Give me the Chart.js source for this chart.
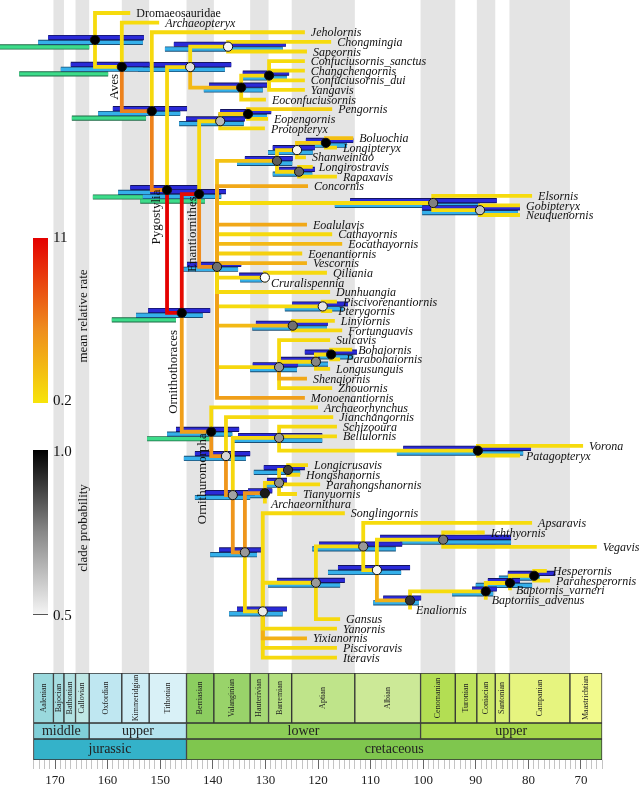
<!DOCTYPE html>
<html>
<head>
<meta charset="utf-8">
<script src="https://cdn.jsdelivr.net/npm/chart.js@4.4.1/dist/chart.umd.min.js"></script>
<style>
  html, body { margin: 0; padding: 0; background: #fff; }
  #wrap { position: relative; width: 640px; height: 788px; overflow: hidden; font-family: "Liberation Serif", "DejaVu Serif", serif; color: #111; }
  #tree { position: absolute; left: 0; top: 0; }
  #scale { position: absolute; left: 0; top: 673px; }
  .cbar { position: absolute; left: 33px; width: 15px; }
  .num { position: absolute; left: 53px; font-size: 15px; line-height: 15px; }
  .vlab { position: absolute; font-size: 13px; white-space: nowrap; transform: translate(-50%, -50%) rotate(-90deg); }
</style>
</head>
<body>
<div id="wrap">
  <canvas id="tree" width="640" height="673"></canvas>
  <canvas id="scale" width="640" height="115"></canvas>

  <div class="cbar" style="top:238px;height:165px;background:linear-gradient(#e40000, #ee8c1e 55%, #f7e40a);"></div>
  <div class="num" style="top:230px;">11</div>
  <div class="num" style="top:393px;">0.2</div>
  <div class="vlab" style="left:83px;top:316px;">mean relative rate</div>

  <div class="cbar" style="top:450px;height:164px;background:linear-gradient(#000, #888 50%, #f4f4f4);border-bottom:1.5px solid #555;"></div>
  <div class="num" style="top:444px;">1.0</div>
  <div class="num" style="top:608px;">0.5</div>
  <div class="vlab" style="left:83px;top:528px;">clade probability</div>
</div>
<script>
// ---- geological time scale (Ma) ----
const stageName = ['Aalenian', 'Bajocian', 'Bathonian', 'Callovian', 'Oxfordian', 'Kimmeridgian', 'Tithonian',
  'Berriasian', 'Valanginian', 'Hauterivian', 'Barremian', 'Aptian', 'Albian',
  'Cenomanian', 'Turonian', 'Coniacian', 'Santonian', 'Campanian', 'Maastrichtian'];
const stageStart = [174.1, 170.3, 168.3, 166.1, 163.5, 157.3, 152.1, 145.0, 139.8, 132.9, 129.4, 125.0, 113.0, 100.5, 93.9, 89.8, 86.3, 83.6, 72.1];
const stageEnd = [170.3, 168.3, 166.1, 163.5, 157.3, 152.1, 145.0, 139.8, 132.9, 129.4, 125.0, 113.0, 100.5, 93.9, 89.8, 86.3, 83.6, 72.1, 66.0];
const stageColor = ['#9ad9dd', '#a6dde0', '#b3e2e3', '#bfe7e5', '#bfe7f1', '#ccecf4', '#d9f1f7',
  '#8ccd60', '#99d36a', '#a6d975', '#b3df7f', '#bfe48a', '#cce997',
  '#b3de53', '#bfe35d', '#cce968', '#d9ef74', '#e6f47f', '#f2fa8c'];
const epochName = ['middle', 'upper', 'lower', 'upper'];
const epochStart = [174.1, 163.5, 145.0, 100.5];
const epochEnd = [163.5, 145.0, 100.5, 66.0];
const epochColor = ['#80cfd8', '#b3e3ee', '#8ccd57', '#a6d84a'];
const periodName = ['jurassic', 'cretaceous'];
const periodStart = [174.1, 145.0];
const periodEnd = [145.0, 66.0];
const periodColor = ['#34b2c9', '#7fc64e'];

// ---- tips ----
const taxa = ['Dromaeosauridae', 'Archaeopteryx', 'Jeholornis', 'Chongmingia', 'Sapeornis',
  'Confuciusornis_sanctus', 'Changchengornis', 'Confuciusornis_dui', 'Yangavis', 'Eoconfuciusornis',
  'Pengornis', 'Eopengornis', 'Protopteryx', 'Boluochia', 'Longipteryx', 'Shanweiniao', 'Longirostravis',
  'Rapaxavis', 'Concornis', 'Elsornis', 'Gobipteryx', 'Neuquenornis', 'Eoalulavis', 'Cathayornis',
  'Eocathayornis', 'Eoenantiornis', 'Vescornis', 'Qiliania', 'Cruralispennia', 'Dunhuangia',
  'Piscivorenantiornis', 'Pterygornis', 'Linyiornis', 'Fortunguavis', 'Sulcavis', 'Bohaiornis',
  'Parabohaiornis', 'Longusunguis', 'Shenqiornis', 'Zhouornis', 'Monoenantiornis', 'Archaeorhynchus',
  'Jianchangornis', 'Schizooura', 'Bellulornis', 'Vorona', 'Patagopteryx', 'Longicrusavis',
  'Hongshanornis', 'Parahongshanornis', 'Tianyuornis', 'Archaeornithura', 'Songlingornis', 'Apsaravis',
  'Ichthyornis', 'Vegavis', 'Hesperornis', 'Parahesperornis', 'Baptornis_varneri', 'Baptornis_advenus',
  'Enaliornis', 'Gansus', 'Yanornis', 'Yixianornis', 'Piscivoravis', 'Iteravis'];
const tipAge = [155.7, 150.2, 122.5, 117.5, 122.1, 122.5, 122.5, 122.5, 122.5, 129.9,
  117.3, 129.5, 130.1, 113.3, 116.4, 122.3, 121.0, 116.4, 121.9, 79.3,
  81.6, 81.6, 122.1, 117.3, 115.4, 123.0, 122.1, 118.3, 130.1, 117.7,
  116.4, 117.3, 116.8, 115.4, 117.7, 113.5, 115.8, 117.7, 122.1, 117.3,
  122.5, 120.0, 117.1, 116.4, 116.4, 69.6, 81.6, 121.9, 123.4, 119.6,
  124.0, 130.1, 114.9, 79.3, 88.3, 67.0, 76.5, 75.9, 83.5, 88.1,
  102.5, 115.8, 116.4, 122.1, 116.4, 116.4];
const tipRow = [0, 1, 2, 3, 4, 5, 6, 7, 8, 9, 10, 11, 12, 13, 14, 15, 16, 17, 18, 19,
  20, 21, 22, 23, 24, 25, 26, 27, 28, 29, 30, 31, 32, 33, 34, 35, 36, 37, 38, 39,
  40, 41, 42, 43, 44, 45, 46, 47, 48, 49, 50, 51, 52, 53, 54, 55.5,
  58, 59, 60, 61, 62, 63, 64, 65, 66, 67];
const tipParent = [0, 1, 2, 5, 5, 7, 7, 7, 7, 6,
  11, 11, 10, 15, 15, 14, 16, 16, 12, 17,
  18, 18, 12, 12, 12, 12, 12, 19, 19, 12,
  20, 20, 21, 21, 22, 24, 24, 23, 22, 22,
  12, 25, 26, 28, 28, 29, 29, 33, 33, 32,
  32, 31, 34, 36, 38, 38, 42, 42, 41, 40,
  39, 35, 34, 34, 34, 34];
const tipRate = [0.6, 0.6, 0.7, 0.6, 0.7, 0.6, 0.6, 0.6, 0.6, 0.8,
  1.2, 0.7, 0.7, 2.2, 0.7, 0.7, 0.7, 0.7, 3.5, 0.6,
  0.6, 0.6, 3.5, 0.7, 2.5, 1.2, 3.0, 0.7, 0.7, 0.7,
  0.6, 0.7, 0.8, 0.8, 0.7, 0.7, 0.7, 0.7, 3.5, 0.7,
  4.0, 0.7, 0.7, 0.7, 0.7, 0.6, 0.6, 0.7, 0.7, 0.7,
  0.7, 0.7, 0.7, 0.6, 0.6, 0.6, 0.6, 0.6, 0.6, 0.6,
  0.7, 0.7, 0.7, 3.0, 0.7, 0.7];

// ---- internal nodes ----
const nodeParent = [-1, 0, 1, 2, 3, 4, 4, 6, 3, 8, 9, 10, 9, 12, 13, 14, 13, 12, 17, 12, 12, 12, 12, 22, 23,
  8, 25, 26, 27, 28, 27, 30, 31, 32, 30, 34, 35, 36, 37, 37, 39, 40, 41];
const nodeAge = [162.4, 157.3, 151.6, 148.7, 144.3, 137.1, 134.6, 129.3, 145.9, 142.6, 138.6, 133.3, 139.2,
  127.8, 124.0, 118.5, 123.6, 98.1, 89.2, 130.1, 119.1, 124.8, 127.4, 120.4, 117.5,
  140.3, 137.5, 136.2, 127.4, 89.6, 133.9, 130.1, 127.4, 125.7, 130.5, 120.4, 111.4, 108.8, 96.2, 102.5, 88.1, 83.5, 78.9];
const nodeRate = [0, 0.6, 5.5, 5.5, 0.8, 0.6, 2.5, 0.8, 11, 10.5, 0.8, 1.5, 5.0,
  2.0, 0.8, 1.5, 0.8, 0.6, 0.6, 0.8, 0.6, 2.5, 0.8, 0.8, 0.6,
  4.0, 4.5, 4.5, 0.8, 0.6, 4.5, 4.5, 0.8, 0.8, 0.8, 0.6, 0.6, 0.6, 0.6, 3.0, 0.6, 0.6, 0.6];
const nodeProb = [1, 1, 1, 1, 0.56, 0.52, 1, 1, 1, 1, 0.64, 1, 0.78,
  0.82, 0.52, 1, 0.8, 0.75, 0.62, 0.5, 0.55, 0.78, 0.7, 0.74, 1,
  1, 0.58, 0.68, 0.7, 1, 0.7, 0.95, 0.72, 0.88, 0.54, 0.7, 0.7, 0.52, 0.76, 0.9, 1, 1, 1];
const hpdDark = [[171.3, 153.1], [167.0, 152.0], [159.0, 144.9], [155.7, 142.4], [151.4, 136.5], [147.4, 126.1],
  [140.7, 129.7], [134.3, 125.5], [152.3, 140.5], [151.9, 137.5], [145.1, 133.9], [138.6, 128.9], [144.9, 134.6],
  [133.9, 124.8], [128.6, 120.6], [122.3, 113.3], [127.4, 120.6], [113.9, 86.0], [100.2, 81.6], [135.0, 129.9],
  [124.9, 114.3], [131.8, 118.1], [132.4, 123.8], [127.6, 119.6], [122.5, 112.6], [147.0, 135.0], [143.4, 132.9],
  [141.5, 132.0], [135.2, 119.2], [103.8, 79.5], [138.8, 130.8], [133.3, 128.7], [129.7, 125.9], [130.3, 122.5],
  [135.4, 125.9], [127.8, 114.9], [119.8, 104.0], [116.2, 102.5], [108.2, 83.3], [107.6, 100.4], [90.7, 86.0],
  [87.7, 81.6], [83.9, 74.9]];
const hpdLight = [[173.2, 153.3], [168.9, 153.3], [161.8, 146.2], [158.0, 143.2], [154.2, 137.7], [149.1, 126.7],
  [141.7, 130.5], [134.6, 125.9], [154.6, 141.9], [153.3, 138.4], [146.4, 134.1], [139.0, 129.7], [146.2, 135.2],
  [135.4, 124.9], [129.5, 121.0], [124.2, 114.5], [128.6, 121.1], [116.8, 89.2], [100.2, 82.0], [134.8, 130.6],
  [126.3, 115.2], [132.5, 118.3], [132.9, 124.0], [125.9, 118.1], [120.6, 113.3], [148.7, 136.3], [145.5, 133.7],
  [143.4, 132.9], [136.2, 119.2], [105.0, 81.0], [140.5, 131.6], [133.9, 129.5], [130.1, 126.7], [132.2, 123.4],
  [136.9, 126.7], [129.5, 115.8], [121.1, 105.2], [118.1, 104.2], [104.4, 83.3], [109.5, 100.8], [94.5, 86.7],
  [90.0, 79.3], [85.6, 77.8]];
const greenNodes = [0, 1, 2, 3, 8, 9, 25];
const hpdGreen = [[180.5, 163.5], [176.8, 159.9], [166.8, 152.7], [162.8, 144.7], [159.2, 147.0], [153.8, 141.5], [152.5, 140.0]];

const cladeName = ['Aves', 'Pygostylia', 'Enantiornithes', 'Ornithothoraces', 'Ornithuromorpha'];
const cladeNode = [1, 3, 9, 8, 25];

// ---- layout helpers ----
const xMin = 58.78, xMax = 180.46;      // axis range that fills the 640px width
const rowPx = 9.62;
const yMin = -13 / rowPx, yMax = yMin + 673 / rowPx;
const SERIF = '"Liberation Serif", "DejaVu Serif", serif';

const nodeRow = nodeAge.map(() => null);
function rowOf(n) {
  if (nodeRow[n] !== null) return nodeRow[n];
  const ys = [];
  tipParent.forEach((p, i) => { if (p === n) ys.push(tipRow[i]); });
  nodeParent.forEach((p, j) => { if (p === n) ys.push(rowOf(j)); });
  nodeRow[n] = ys.reduce((a, b) => a + b, 0) / ys.length;
  return nodeRow[n];
}
nodeAge.forEach((_, n) => rowOf(n));

function rateColor(r) {
  const f = Math.max(0, Math.min(1, (r - 0.2) / 10.8));
  const stops = [[0, [247, 226, 12]], [0.45, [238, 140, 30]], [1, [228, 0, 0]]];
  let k = 0;
  while (k < stops.length - 2 && f > stops[k + 1][0]) k++;
  const [f0, c0] = stops[k], [f1, c1] = stops[k + 1];
  const t = (f - f0) / (f1 - f0);
  const c = c0.map((v, i) => Math.round(v + (c1[i] - v) * t));
  return `rgb(${c[0]},${c[1]},${c[2]})`;
}
function probColor(p) {
  const g = Math.round(255 * Math.max(0, Math.min(1, 1 - (p - 0.5) / 0.5)));
  return `rgb(${g},${g},${g})`;
}

const datasets = [];

// HPD bars, drawn underneath the branches
function barSets(nodes, ranges, offPx, fill, edge, order) {
  const pts = [];
  nodes.forEach((n, k) => {
    const r = nodeRow[n] + offPx / rowPx;
    pts.push({ x: ranges[k][0], y: r }, { x: ranges[k][1], y: r }, { x: NaN, y: NaN });
  });
  const base = { data: pts, showLine: true, pointRadius: 0, spanGaps: false, borderCapStyle: 'butt' };
  return [
    Object.assign({}, base, { borderColor: edge, borderWidth: 5.2, order: order + 1 }),
    Object.assign({}, base, { borderColor: fill, borderWidth: 3.4, order: order })
  ];
}
const allNodes = nodeAge.map((_, i) => i);
datasets.push(...barSets(greenNodes, hpdGreen, 7, '#3ddc8a', '#1d6b45', 8));
datasets.push(...barSets(allNodes, hpdLight, 2.4, '#35b0ea', '#1b4f75', 6));
datasets.push(...barSets(allNodes, hpdDark, -2.4, '#2a2ad8', '#141460', 4));

// branches (elbow: down/up from parent, then across to child)
function edge(pAge, pRow, cAge, cRow, rate) {
  datasets.push({
    data: [{ x: pAge, y: pRow }, { x: pAge, y: cRow }, { x: cAge, y: cRow }],
    showLine: true, pointRadius: 0, borderColor: rateColor(rate), borderWidth: 3.8,
    borderJoinStyle: 'miter', borderCapStyle: 'butt', order: 1
  });
}
taxa.forEach((_, i) => {
  const p = tipParent[i];
  edge(nodeAge[p], nodeRow[p], tipAge[i], tipRow[i], tipRate[i]);
});
nodeParent.forEach((p, j) => {
  if (p < 0) return;
  edge(nodeAge[p], nodeRow[p], nodeAge[j], nodeRow[j], nodeRate[j]);
});

// node circles
datasets.push({
  data: nodeAge.map((a, n) => ({ x: a, y: nodeRow[n] })),
  showLine: false, pointRadius: 4.6, pointBorderWidth: 1, pointBorderColor: '#111',
  pointBackgroundColor: nodeProb.map(probColor), order: 0
});

const stripes = {
  id: 'stripes',
  beforeDatasetsDraw(chart) {
    const { ctx, scales: { x } } = chart;
    ctx.save();
    ctx.fillStyle = '#e4e4e4';
    stageName.forEach((_, i) => {
      if (i % 2 === 1) {
        const a = x.getPixelForValue(stageStart[i]), b = x.getPixelForValue(stageEnd[i]);
        ctx.fillRect(a, 0, b - a, chart.height);
      }
    });
    ctx.restore();
  }
};

const treeText = {
  id: 'treeText',
  afterDatasetsDraw(chart) {
    const { ctx, scales: { x, y } } = chart;
    ctx.save();
    ctx.fillStyle = '#111';
    ctx.textBaseline = 'middle';
    taxa.forEach((name, i) => {
      ctx.font = (i === 0 ? '' : 'italic ') + '12px ' + SERIF;
      ctx.fillText(name, x.getPixelForValue(tipAge[i]) + 6, y.getPixelForValue(tipRow[i]) + 1);
    });
    const dx = [-7, -10, -7, -8, -9], dy = [20, 27, 40, 59, 47];
    ctx.font = '13px ' + SERIF;
    ctx.textAlign = 'center';
    cladeName.forEach((name, k) => {
      const n = cladeNode[k];
      ctx.save();
      ctx.translate(x.getPixelForValue(nodeAge[n]) + dx[k], y.getPixelForValue(nodeRow[n]) + dy[k]);
      ctx.rotate(-Math.PI / 2);
      ctx.fillText(name, 0, 0);
      ctx.restore();
    });
    ctx.restore();
  }
};

new Chart(document.getElementById('tree'), {
  type: 'scatter',
  data: { datasets },
  options: {
    responsive: false, animation: false, events: [],
    layout: { padding: 0, autoPadding: false },
    elements: { line: { tension: 0 } },
    plugins: { legend: { display: false }, tooltip: { enabled: false } },
    scales: {
      x: { type: 'linear', min: xMin, max: xMax, reverse: true, display: false },
      y: { type: 'linear', min: yMin, max: yMax, reverse: true, display: false }
    }
  },
  plugins: [stripes, treeText]
});

// ---- time scale strip ----
const scaleText = {
  id: 'scaleText',
  afterDatasetsDraw(chart) {
    const ctx = chart.ctx;
    [[stageName, 8, true], [epochName, 14, false], [periodName, 14, false]].forEach(([names, size, vertical], d) => {
      chart.getDatasetMeta(d).data.forEach((bar, i) => {
        ctx.save();
        ctx.fillStyle = '#222';
        ctx.font = size + 'px ' + SERIF;
        ctx.textAlign = 'center';
        ctx.textBaseline = 'middle';
        ctx.translate((bar.x + bar.base) / 2, bar.y);
        if (vertical) ctx.rotate(-Math.PI / 2);
        ctx.fillText(names[i], 0, 0);
        ctx.restore();
      });
    });
  }
};

function band(names, start, end, colors, yc, thick) {
  return {
    data: names.map((_, i) => ({ x: [start[i], end[i]], y: yc })),
    backgroundColor: colors, borderColor: '#333', borderWidth: 1, borderSkipped: false,
    barThickness: thick, grouped: false
  };
}

new Chart(document.getElementById('scale'), {
  type: 'bar',
  data: {
    datasets: [
      band(stageName, stageStart, stageEnd, stageColor, 25, 50),
      band(epochName, epochStart, epochEnd, epochColor, 58, 16),
      band(periodName, periodStart, periodEnd, periodColor, 76.5, 21)
    ]
  },
  options: {
    indexAxis: 'y', responsive: false, animation: false, events: [],
    layout: { padding: 0, autoPadding: false },
    plugins: { legend: { display: false }, tooltip: { enabled: false } },
    scales: {
      x: {
        type: 'linear', min: xMin, max: xMax, reverse: true,
        afterBuildTicks: axis => {
          const t = [];
          for (let v = 66; v <= 174; v++) t.push({ value: v });
          axis.ticks = t;
        },
        afterFit: axis => { axis.height = 28; },
        ticks: {
          autoSkip: false, maxRotation: 0, minRotation: 0, padding: 4, color: '#222',
          font: { family: SERIF, size: 13 },
          callback: v => (v % 10 === 0 ? String(v) : '')
        },
        grid: {
          drawOnChartArea: false, tickLength: 9,
          tickColor: c => (c.tick && c.tick.value % 10 === 0 ? '#666' : '#c4c4c4'),
          tickWidth: 1
        },
        border: { display: false }
      },
      y: { type: 'linear', min: 0, max: 87, reverse: true, offset: false, display: false }
    }
  },
  plugins: [scaleText]
});
</script>
</body>
</html>
